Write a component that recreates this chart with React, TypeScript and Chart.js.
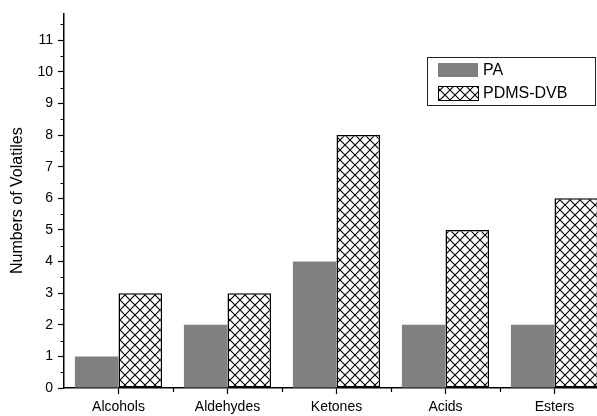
import React, { useEffect, useRef } from 'react';
import { Chart, registerables } from 'chart.js';

Chart.register(...registerables);

const categories = ['Alcohols', 'Aldehydes', 'Ketones', 'Acids', 'Esters'];
const paValues = [1, 2, 4, 2, 2];
const pdmsValues = [3, 3, 8, 5, 6];
const seriesLabels = ['PA', 'PDMS-DVB'];
const yTickValues = [0, 1, 2, 3, 4, 5, 6, 7, 8, 9, 10, 11];
const yMinorValues = [0.5, 1.5, 2.5, 3.5, 4.5, 5.5, 6.5, 7.5, 8.5, 9.5, 10.5, 11.5];
const yAxisTitle = 'Numbers of Volatiles';
const yMin = 0;
const yMax = 11.85;

const FONT = '"Liberation Sans", Arial, Helvetica, sans-serif';
const PA_COLOR = '#808080';

function makeHatch(): CanvasPattern | string {
  const c = document.createElement('canvas');
  c.width = 10;
  c.height = 10;
  const g = c.getContext('2d');
  if (!g) return '#fff';
  g.fillStyle = '#ffffff';
  g.fillRect(0, 0, 10, 10);
  g.strokeStyle = '#000000';
  g.lineWidth = 1.1;
  g.beginPath();
  g.moveTo(-1, -1);
  g.lineTo(11, 11);
  g.moveTo(11, -1);
  g.lineTo(-1, 11);
  g.stroke();
  const p = g.createPattern(c, 'repeat');
  return p || '#fff';
}

const minorTicksPlugin = {
  id: 'minorTicks',
  afterDraw(chart: any) {
    const ctx = chart.ctx;
    const ys = chart.scales.y;
    const xs = chart.scales.x;
    const area = chart.chartArea;
    ctx.save();
    ctx.strokeStyle = '#000';
    ctx.lineWidth = 1.2;
    ctx.beginPath();
    yMinorValues.forEach((v) => {
      const py = Math.round(ys.getPixelForValue(v)) + 0.5;
      ctx.moveTo(area.left - 3.5, py);
      ctx.lineTo(area.left, py);
    });
    for (let i = 0; i < categories.length - 1; i++) {
      const px = Math.round((xs.getPixelForValue(i) + xs.getPixelForValue(i + 1)) / 2) + 0.5;
      ctx.moveTo(px, area.bottom);
      ctx.lineTo(px, area.bottom + 4);
    }
    ctx.stroke();
    ctx.restore();
  },
};

const boxLegendPlugin = {
  id: 'boxLegend',
  afterDraw(chart: any) {
    const ctx = chart.ctx;
    const ds = chart.data.datasets;
    ctx.save();
    ctx.strokeStyle = '#222';
    ctx.lineWidth = 1;
    ctx.strokeRect(427.5, 57.5, 168, 48);
    const rows = [63, 86];
    ctx.font = `16px ${FONT}`;
    ctx.textBaseline = 'middle';
    ctx.textAlign = 'left';
    ds.forEach((d: any, i: number) => {
      const y = rows[i];
      ctx.fillStyle = d.backgroundColor;
      ctx.fillRect(438, y, 40, 14);
      if (d.borderWidth) {
        ctx.strokeStyle = '#000';
        ctx.lineWidth = 1;
        ctx.strokeRect(438.5, y + 0.5, 40, 14);
      }
      ctx.fillStyle = '#000';
      ctx.fillText(d.label, 483, y + 8);
    });
    ctx.restore();
  },
};

export default function App() {
  const ref = useRef<HTMLCanvasElement | null>(null);

  useEffect(() => {
    if (!ref.current) return;
    const hatch = makeHatch();
    const chart = new Chart(ref.current, {
      type: 'bar',
      data: {
        labels: categories,
        datasets: [
          {
            label: seriesLabels[0],
            data: paValues,
            backgroundColor: PA_COLOR,
            borderWidth: 0,
            categoryPercentage: 0.8,
            barPercentage: 1.0,
          },
          {
            label: seriesLabels[1],
            data: pdmsValues,
            backgroundColor: hatch as any,
            borderColor: '#000',
            borderWidth: 1.5,
            borderSkipped: false,
            categoryPercentage: 0.8,
            barPercentage: 1.0,
          },
        ],
      },
      options: {
        responsive: false,
        animation: false,
        layout: { padding: { top: 12, right: 11, bottom: 0, left: 0 } },
        plugins: {
          legend: { display: false },
          tooltip: { enabled: false },
        },
        scales: {
          x: {
            type: 'category',
            offset: true,
            afterFit: (s: any) => {
              s.height = 28;
            },
            border: { display: true, color: '#000', width: 1.5 },
            grid: {
              offset: false,
              drawOnChartArea: false,
              drawTicks: true,
              tickLength: 6,
              tickColor: '#000',
              tickWidth: 1.2,
            },
            ticks: {
              color: '#000',
              font: { family: FONT, size: 14 },
              padding: 5,
              autoSkip: false,
              maxRotation: 0,
            },
          },
          y: {
            type: 'linear',
            min: yMin,
            max: yMax,
            afterFit: (s: any) => {
              s.width = 64;
            },
            afterBuildTicks: (s: any) => {
              s.ticks = yTickValues.map((v) => ({ value: v }));
            },
            border: { display: true, color: '#000', width: 1.5 },
            grid: {
              drawOnChartArea: false,
              drawTicks: true,
              tickLength: 6,
              tickColor: '#000',
              tickWidth: 1.2,
            },
            ticks: {
              color: '#000',
              font: { family: FONT, size: 14 },
              padding: 5,
              autoSkip: false,
            },
            title: {
              display: true,
              text: yAxisTitle,
              color: '#000',
              font: { family: FONT, size: 16 },
              padding: { top: 8, bottom: 0 },
            },
          },
        },
      },
      plugins: [minorTicksPlugin, boxLegendPlugin],
    });
    return () => chart.destroy();
  }, []);

  return (
    <div
      style={{
        position: 'fixed',
        left: 0,
        top: 0,
        width: 597,
        height: 416,
        overflow: 'hidden',
        background: '#fff',
      }}
    >
      <canvas ref={ref} width={620} height={416} style={{ display: 'block' }} />
    </div>
  );
}
